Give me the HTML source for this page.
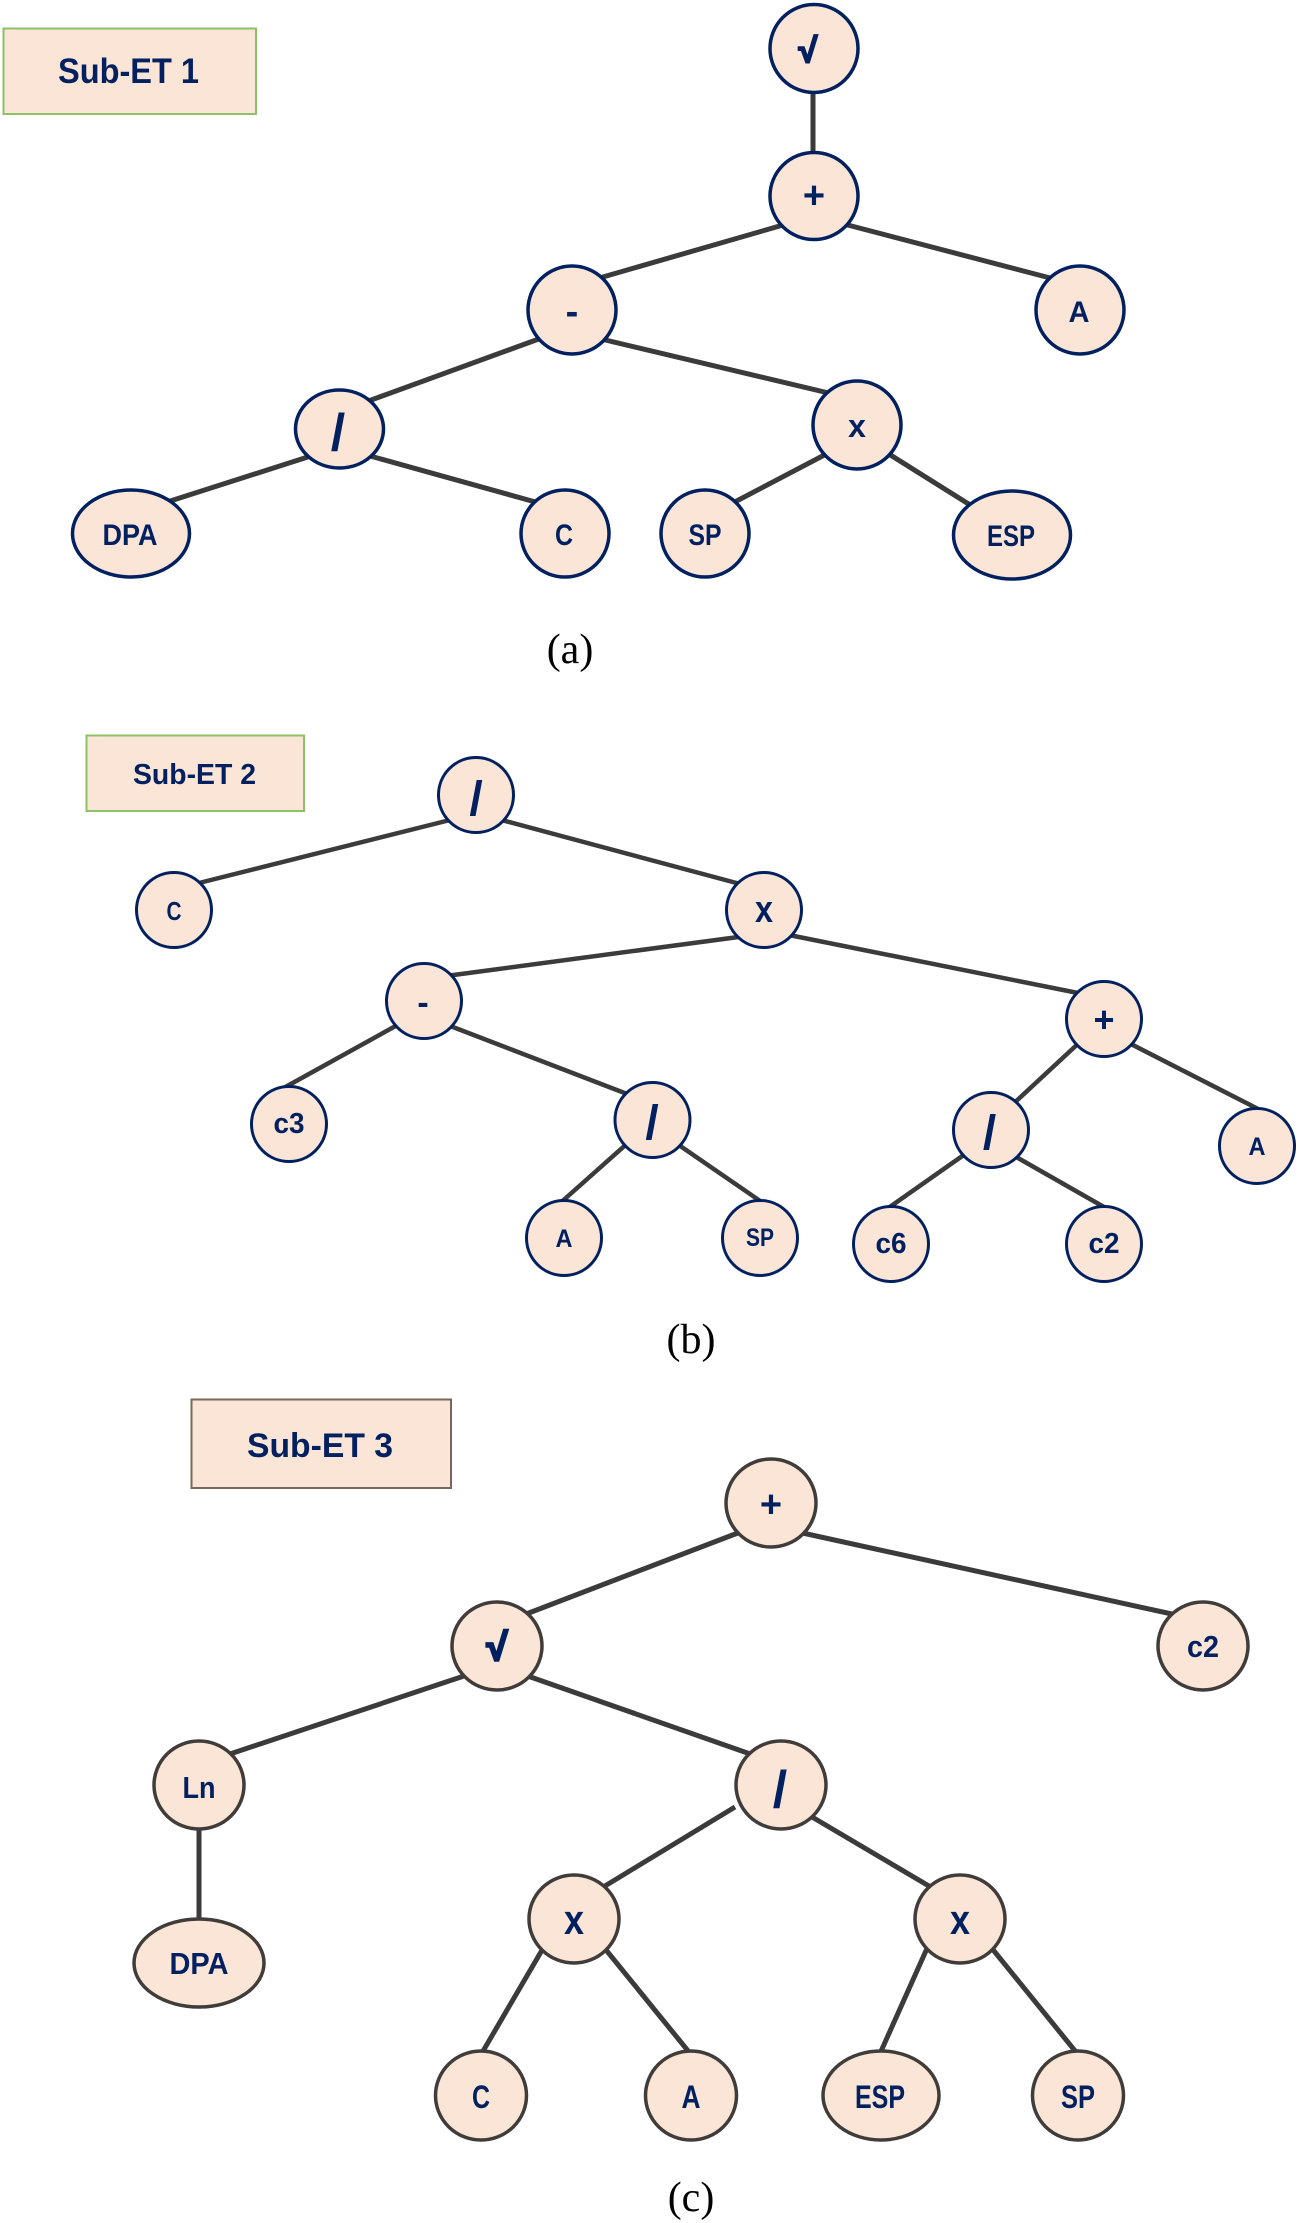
<!DOCTYPE html>
<html><head><meta charset="utf-8"><style>
html,body{margin:0;padding:0;background:#fff}
svg{display:block}
text{font-family:"Liberation Sans",sans-serif;font-weight:bold;fill:#002060;text-anchor:middle}
.e{stroke:#3b3b3b;fill:none}
.n{fill:#fbe5d6;stroke:#002060;stroke-width:3.5}
.m{fill:#fbe5d6;stroke:#403c3a;stroke-width:3.5}
.c{font-family:"Liberation Serif",serif;font-weight:normal;fill:#000;font-size:42px}
.r{stroke:#002060}
</style></head><body>
<svg width="1300" height="2223" viewBox="0 0 1300 2223" xmlns="http://www.w3.org/2000/svg">
<rect width="1300" height="2223" fill="#fff"/>

<!-- (a) -->
<rect x="3.5" y="28.5" width="252.5" height="85.5" fill="#fbe5d6" stroke="#8cc168" stroke-width="2"/>
<text x="128.5" y="83" font-size="35" textLength="141" lengthAdjust="spacingAndGlyphs">Sub-ET 1</text>
<g class="e" stroke-width="5">
<line x1="813" y1="88" x2="813" y2="158"/>
<line x1="790" y1="223" x2="596" y2="279"/>
<line x1="840" y1="223" x2="1054" y2="279"/>
<line x1="547" y1="336" x2="363" y2="403"/>
<line x1="597" y1="338" x2="837" y2="395"/>
<line x1="314" y1="455" x2="164" y2="503"/>
<line x1="363" y1="454" x2="539" y2="503"/>
<line x1="832" y1="451" x2="729" y2="505"/>
<line x1="884" y1="451" x2="975" y2="508"/>
</g>
<g class="n">
<ellipse cx="814" cy="48.5" rx="44" ry="44"/>
<ellipse cx="814" cy="196" rx="44" ry="43.5"/>
<ellipse cx="572" cy="310" rx="44" ry="44"/>
<ellipse cx="1080" cy="310" rx="44" ry="44"/>
<ellipse cx="339.5" cy="429" rx="44" ry="39"/>
<ellipse cx="857" cy="425" rx="44" ry="44"/>
<ellipse cx="131" cy="533.5" rx="58.5" ry="43.5"/>
<ellipse cx="565" cy="533.5" rx="44" ry="43.5"/>
<ellipse cx="705" cy="533.5" rx="44" ry="43.5"/>
<ellipse cx="1012" cy="535" rx="58.5" ry="44"/>
</g>
<text class="r" x="808" y="62" font-size="34" stroke-width="2">√</text>
<text x="814" y="208" font-size="38">+</text>
<text x="572" y="324" font-size="38">-</text>
<text x="1079" y="322" font-size="30" textLength="21" lengthAdjust="spacingAndGlyphs">A</text>
<text x="338" y="450" font-size="52">/</text>
<text x="857" y="437" font-size="32">x</text>
<text x="130" y="545" font-size="30" textLength="55" lengthAdjust="spacingAndGlyphs">DPA</text>
<text x="564" y="545" font-size="30" textLength="18" lengthAdjust="spacingAndGlyphs">C</text>
<text x="705" y="545" font-size="30" textLength="33" lengthAdjust="spacingAndGlyphs">SP</text>
<text x="1011" y="546" font-size="30" textLength="48" lengthAdjust="spacingAndGlyphs">ESP</text>
<text class="c" x="570" y="663">(a)</text>

<!-- (b) -->
<rect x="86.5" y="735.5" width="217.5" height="75.5" fill="#fbe5d6" stroke="#8cc168" stroke-width="2"/>
<text x="194.5" y="784" font-size="29" textLength="123" lengthAdjust="spacingAndGlyphs">Sub-ET 2</text>
<g class="e" stroke-width="4.5">
<line x1="456" y1="818.5" x2="195" y2="884"/>
<line x1="496" y1="818.5" x2="744" y2="885"/>
<line x1="746" y1="936" x2="446" y2="976"/>
<line x1="784" y1="934" x2="1083" y2="994"/>
<line x1="401" y1="1023" x2="280" y2="1090"/>
<line x1="445" y1="1024" x2="635" y2="1097"/>
<line x1="630" y1="1141" x2="558" y2="1205"/>
<line x1="673" y1="1141" x2="766" y2="1205"/>
<line x1="1081" y1="1041" x2="1012" y2="1105"/>
<line x1="1127" y1="1042" x2="1264" y2="1112"/>
<line x1="968" y1="1152" x2="884" y2="1211"/>
<line x1="1011" y1="1154" x2="1111" y2="1211"/>
</g>
<g class="n" style="stroke-width:3">
<ellipse cx="476" cy="795" rx="37.5" ry="37.5"/>
<ellipse cx="174" cy="910" rx="37.5" ry="37.5"/>
<ellipse cx="764" cy="910" rx="37.5" ry="37.5"/>
<ellipse cx="424" cy="1001" rx="37.5" ry="37.5"/>
<ellipse cx="1104" cy="1019" rx="37.5" ry="37.5"/>
<ellipse cx="289" cy="1124" rx="37.5" ry="37.5"/>
<ellipse cx="652.5" cy="1120" rx="37.5" ry="37.5"/>
<ellipse cx="991" cy="1130" rx="37.5" ry="37.5"/>
<ellipse cx="1257" cy="1146" rx="37.5" ry="37.5"/>
<ellipse cx="564" cy="1238" rx="37.5" ry="37.5"/>
<ellipse cx="760" cy="1238" rx="37.5" ry="37.5"/>
<ellipse cx="891" cy="1244" rx="37.5" ry="37.5"/>
<ellipse cx="1104" cy="1244" rx="37.5" ry="37.5"/>
</g>
<text x="476" y="815" font-size="48">/</text>
<text x="174" y="920" font-size="26" textLength="15" lengthAdjust="spacingAndGlyphs">C</text>
<text x="764" y="922" font-size="38" textLength="18" lengthAdjust="spacingAndGlyphs">x</text>
<text x="423" y="1014" font-size="34">-</text>
<text x="1104" y="1032" font-size="36">+</text>
<text x="289" y="1133" font-size="29" textLength="31" lengthAdjust="spacingAndGlyphs">c3</text>
<text x="652" y="1139" font-size="48">/</text>
<text x="989.5" y="1149" font-size="48">/</text>
<text x="1257" y="1155" font-size="25" textLength="17" lengthAdjust="spacingAndGlyphs">A</text>
<text x="564" y="1247" font-size="25" textLength="17" lengthAdjust="spacingAndGlyphs">A</text>
<text x="760" y="1246" font-size="25" textLength="28" lengthAdjust="spacingAndGlyphs">SP</text>
<text x="891" y="1253" font-size="29" textLength="31" lengthAdjust="spacingAndGlyphs">c6</text>
<text x="1104" y="1253" font-size="29" textLength="31" lengthAdjust="spacingAndGlyphs">c2</text>
<text class="c" x="691" y="1353">(b)</text>

<!-- (c) -->
<rect x="191.5" y="1399.5" width="259.5" height="88.5" fill="#fbe5d6" stroke="#7a675c" stroke-width="2"/>
<text x="320" y="1457" font-size="34" textLength="146" lengthAdjust="spacingAndGlyphs">Sub-ET 3</text>
<g class="e" stroke-width="5">
<line x1="743" y1="1531" x2="521" y2="1616"/>
<line x1="798" y1="1532" x2="1181" y2="1616"/>
<line x1="470" y1="1674" x2="224" y2="1756"/>
<line x1="522" y1="1674" x2="756" y2="1756"/>
<line x1="735" y1="1807" x2="600" y2="1889"/>
<line x1="807" y1="1814" x2="934" y2="1889"/>
<line x1="199" y1="1825" x2="199" y2="1925"/>
<line x1="545" y1="1945" x2="479" y2="2058"/>
<line x1="602" y1="1945" x2="693" y2="2057"/>
<line x1="929" y1="1944" x2="878" y2="2058"/>
<line x1="990" y1="1946" x2="1080" y2="2057"/>
</g>
<g class="m">
<ellipse cx="771" cy="1503" rx="45" ry="44"/>
<ellipse cx="497" cy="1646" rx="45" ry="44"/>
<ellipse cx="1203" cy="1646" rx="45" ry="44"/>
<ellipse cx="199" cy="1785" rx="45" ry="44"/>
<ellipse cx="781" cy="1785" rx="45" ry="44"/>
<ellipse cx="199" cy="1963" rx="65" ry="44"/>
<ellipse cx="574" cy="1919" rx="45" ry="44"/>
<ellipse cx="960" cy="1919" rx="45" ry="44"/>
<ellipse cx="481" cy="2095.5" rx="45.5" ry="44.5"/>
<ellipse cx="691" cy="2095.5" rx="45.5" ry="44.5"/>
<ellipse cx="881" cy="2095.5" rx="58" ry="44.5"/>
<ellipse cx="1078" cy="2095.5" rx="45.5" ry="44.5"/>
</g>
<text x="771" y="1517" font-size="38">+</text>
<text class="r" x="497" y="1660" font-size="38" stroke-width="2.5">√</text>
<text x="1203" y="1657" font-size="31" textLength="32" lengthAdjust="spacingAndGlyphs">c2</text>
<text x="199" y="1798" font-size="31" textLength="33" lengthAdjust="spacingAndGlyphs">Ln</text>
<text x="780" y="1807" font-size="52">/</text>
<text x="199" y="1974" font-size="31" textLength="59" lengthAdjust="spacingAndGlyphs">DPA</text>
<text x="574" y="1934" font-size="42" textLength="20" lengthAdjust="spacingAndGlyphs">x</text>
<text x="960" y="1934" font-size="42" textLength="20" lengthAdjust="spacingAndGlyphs">x</text>
<text x="481" y="2108" font-size="32" textLength="18" lengthAdjust="spacingAndGlyphs">C</text>
<text x="691" y="2108" font-size="32" textLength="19" lengthAdjust="spacingAndGlyphs">A</text>
<text x="880" y="2108" font-size="32" textLength="50" lengthAdjust="spacingAndGlyphs">ESP</text>
<text x="1078" y="2108" font-size="32" textLength="34" lengthAdjust="spacingAndGlyphs">SP</text>
<text class="c" x="691" y="2211">(c)</text>
</svg>
</body></html>
